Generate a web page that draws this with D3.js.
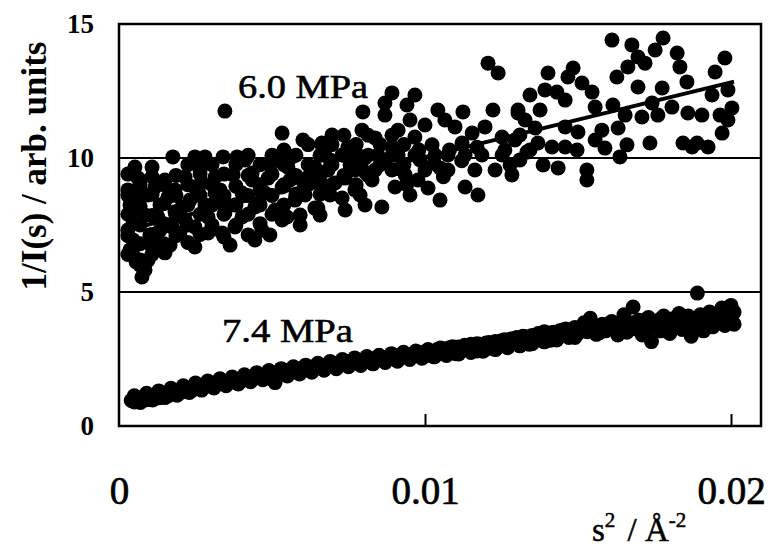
<!DOCTYPE html>
<html>
<head>
<meta charset="utf-8">
<script src="https://cdn.jsdelivr.net/npm/d3@7"></script>
<style>
  html, body { margin: 0; padding: 0; background: #fff; }
  svg { display: block; }
  text { font-family: "Liberation Serif", "Times New Roman", serif; fill: #000; }
</style>
</head>
<body>
<svg id="chart" width="768" height="552"></svg>
<script>
// ---- data: 1/I(s) versus s^2 at two pressures ----
const s2_60 = [
  0.00346,0.00533,0.00601,0.00663,0.00176,0.00248,0.00281,0.0034,0.00386,0.00418,0.0051,0.00565,
  0.00052,0.00108,0.00062,0.00216,0.00373,0.00435,0.00487,0.0064,0.00549,0.00422,0.00363,0.00248,
  0.00291,0.00085,0.00069,0.00046,0.00046,0.00052,0.00062,0.00118,0.0016,0.00206,0.00248,0.00314,
  0.00346,0.00173,0.00127,0.00108,0.0015,0.00095,0.00075,0.00199,0.00248,0.00291,0.00402,0.00444,
  0.00477,0.00533,0.00575,0.00598,0.0064,0.00552,0.00314,0.00271,0.00346,0.00402,0.00435,0.0051,
  0.00533,0.00379,0.00337,
  0.00029,0.00036,0.00029,0.00036,0.00056,0.00101,0.00085,0.00134,0.00134,0.00183,0.00095,0.00069,
  0.00118,0.00167,0.00216,0.00232,0.00281,0.00183,0.0015,0.00265,0.0033,0.00379,0.00461,0.00493,
  0.00412,0.00559,0.00608,0.00624,0.00046,0.00467,0.00592,
  0.01206,0.01239,0.00892,0.00967,0.00869,0.00941,0.00797,0.01042,0.01124,0.01222,0.01304,0.00869,
  0.00951,0.01065,0.00794,0.00912,0.01,0.01098,0.01196,0.00696,0.00837,0.00967,0.01154,0.01252,
  0.00663,0.00748,0.00892,0.01023,0.01121,0.01294,
  0.00673,0.00729,0.00781,0.00846,0.00912,0.00967,0.01033,0.01075,0.01131,0.01186,0.01252,
  0.00683,0.00771,0.00837,0.00925,0.01,0.01075,0.01163,0.01229,
  0.01284,0.01131,0.01173,0.00902,0.00859,0.0065,0.00729,0.00771,0.00706,0.00827,0.00892,
  0.0069,0.00755,0.00804,0.00869,0.00935,0.00984,0.01049,0.00739,0.00804,0.00788,0.00977,0.00657,0.0069,
  0.01611,0.01778,0.01676,0.01752,0.01824,0.01696,0.01719,0.01663,0.0198,0.01833,0.01948,0.01402,
  0.01484,0.01467,0.01627,0.01856,0.01513,0.01696,0.01775,0.01392,0.01343,0.01546,0.01431,0.01458,
  0.01556,0.01614,0.01742,0.01807,0.01938,0.0199,0.01304,0.01376,0.01654,0.01709,0.01761,0.01859,
  0.01905,0.01964,0.02003,0.0199,0.01327,0.01458,0.01578,0.01631,0.015,0.01971,0.01369,0.01415,
  0.01458,0.01497,0.01556,0.01588,0.0166,0.01735,0.01843,0.01889,0.01925,0.01873,0.01637,0.01386,
  0.01435,0.01529,0.01529,
  0.0131,0.01343,0.0131,0.01261,0.01278,0.0136,0.01333,
  // dense low-s region
  0.00029,0.00029,0.00029,0.00029,0.00029, 0.00069,0.00069,0.00069,0.00069,0.00069,
  0.00108,0.00108,0.00108,0.00108,0.00108, 0.00147,0.00147,0.00147,0.00147,
  0.00186,0.00186,0.00186,0.00186, 0.00225,0.00225,0.00225,0.00225,0.00225,
  0.00265,0.00265,0.00265,0.00265, 0.00304,0.00304,0.00304,0.00304,
  0.00343,0.00343,0.00343,0.00343, 0.00382,0.00382,0.00382,0.00382,
  0.00422,0.00422,0.00422,0.00422, 0.00461,0.00461,0.00461,0.00461,
  0.005,0.005,0.005,0.005, 0.00539,0.00539,0.00539,0.00539,
  0.00578,0.00578,0.00578, 0.00618,0.00618,0.00618, 0.00657,0.00657,0.00657,
  0.00696,0.00696,0.00696, 0.00735,0.00735,0.00735, 0.00775,0.00775,0.00775,
  0.00814,0.00814,0.00814, 0.00853,0.00853, 0.00892,0.00892, 0.00931,0.00931,
  0.0098,0.0103,0.0108,0.0112,0.0117,0.0106,0.0094,
  0.00739,0.00804,0.00951,0.0101,0.01049,0.00592,0.00657,0.00493,0.00444
];
const inv_60 = [
  11.75,10.93,10.67,10.56,10.04,10.04,10.04,10.04,10.04,10.04,10.04,10.04,
  9.66,9.66,9.25,9.29,9.37,9.44,9.25,8.13,7.80,7.13,6.75,6.68,
  7.20,5.82,6.19,6.94,7.57,8.06,8.54,8.92,8.54,8.17,8.92,8.69,
  7.95,7.43,7.80,6.68,6.46,6.19,5.56,7.20,7.43,7.80,7.80,8.17,
  8.69,8.92,8.43,9.18,9.66,9.66,9.29,9.07,8.32,8.69,9.18,8.06,
  7.69,7.43,7.20,
  8.81,8.25,7.31,6.57,6.12,7.13,7.87,7.31,8.25,7.99,8.62,9.18,
  6.94,6.75,7.69,8.43,8.25,8.81,9.18,9.55,8.81,8.25,8.81,9.74,
  9.93,9.18,8.62,9.37,6.38,7.31,7.87,
  13.54,13.17,12.43,12.35,12.05,11.98,11.72,11.79,11.72,11.79,11.68,11.60,
  11.42,11.42,11.04,11.04,11.23,11.16,11.16,10.86,10.75,10.78,10.93,10.78,
  10.49,10.41,10.41,10.49,10.56,10.67,
  10.11,10.11,10.11,10.11,10.11,10.11,10.11,10.11,10.11,10.11,10.11,
  9.55,9.55,9.55,9.55,9.55,9.55,9.55,9.55,
  9.37,8.92,8.62,8.92,8.17,8.13,8.51,8.81,9.07,9.18,9.55,
  9.93,9.74,10.0,9.85,9.37,9.93,9.63,9.25,9.48,8.62,9.18,8.99,8.62,
  14.40,14.48,14.22,14.03,13.92,13.77,13.54,13.40,13.73,13.40,13.21,13.17,
  13.36,13.02,13.02,12.84,12.80,12.65,12.61,12.54,12.35,12.46,12.46,12.16,
  11.90,11.98,12.05,11.90,12.35,12.54,11.79,11.79,11.60,11.53,11.60,11.68,
  11.60,11.60,11.87,11.42,11.42,11.16,11.04,11.12,10.97,10.93,10.56,10.41,
  10.41,10.30,10.67,10.37,10.49,10.56,10.56,10.56,10.41,10.41,10.04,9.74,
  9.63,9.55,9.18,
  10.86,10.30,9.93,10.30,9.74,11.12,10.22,
  9.40,8.60,7.90,7.10,6.40, 9.00,8.20,7.50,6.80,6.00,
  9.30,8.65,7.85,7.15,6.40, 9.00,8.30,7.55,6.80,
  9.35,8.60,7.85,7.10, 9.75,9.00,8.25,7.50,6.85,
  9.40,8.60,7.90,7.15, 9.75,9.00,8.25,7.50,
  9.40,8.60,7.90,7.05, 9.75,8.95,8.25,7.50,
  10.10,9.35,8.60,7.90, 9.75,9.00,8.25,7.55,
  10.10,9.40,8.60,7.90, 10.30,9.75,9.00,8.25,
  10.10,9.35,8.60, 10.50,9.75,9.00, 10.10,9.35,8.65,
  10.50,9.75,9.00, 10.85,10.10,9.35, 10.50,9.75,9.00,
  10.85,10.10,9.35, 10.50,9.75, 10.85,10.10, 10.50,9.75,
  10.30,9.80,10.30,9.90,10.40,9.30,9.00,
  8.06,8.25,8.62,8.88,8.43,7.50,7.87,7.13,6.94
];

const s2_74 = [
  0.0004,0.0005,0.0006,0.0007,0.0008,0.0009,0.0010,0.0011,0.0012,0.0013,0.0014,0.0015,0.0016,0.0017,
  0.0018,0.0019,0.0020,0.0021,0.0022,0.0023,0.0024,0.0025,0.0026,0.0027,0.0028,0.0029,0.0030,0.0031,
  0.0032,0.0033,0.0034,0.0035,0.0036,0.0037,0.0038,0.0039,0.0040,0.0041,0.0042,0.0043,0.0044,0.0045,
  0.0046,0.0047,0.0048,0.0049,0.0050,0.0051,0.0052,0.0053,0.0054,0.0055,0.0056,0.0057,0.0058,0.0059,
  0.0060,0.0061,0.0062,0.0063,0.0064,0.0065,0.0066,0.0067,0.0068,0.0069,0.0070,0.0071,0.0072,0.0073,
  0.0074,0.0075,0.0076,0.0077,0.0078,0.0079,0.0080,0.0081,0.0082,0.0083,0.0084,0.0085,0.0086,0.0087,
  0.0088,0.0089,0.0090,0.0091,0.0092,0.0093,0.0094,0.0095,0.0096,0.0097,0.0098,0.0099,0.0100,0.0101,
  0.0102,0.0103,0.0104,0.0105,0.0106,0.0107,0.0108,0.0109,0.0110,0.0111,0.0112,0.0113,0.0114,0.0115,
  0.0116,0.0117,0.0118,0.0119,0.0120,0.0121,0.0122,0.0123,0.0124,0.0125,0.0126,0.0127,0.0128,0.0129,
  0.0130,0.0131,0.0132,0.0133,0.0134,0.0135,0.0136,0.0137,0.0138,0.0139,0.0140,0.0141,0.0142,0.0143,
  0.0144,0.0145,0.0146,0.0147,0.0148,0.0149,0.0150,0.0151,0.0152,0.0153,0.0154,0.0155,0.0156,0.0157,
  0.0158,0.0159,0.0160,0.0161,0.0162,0.0163,0.0164,0.0165,0.0166,0.0167,0.0168,0.0169,0.0170,0.0171,
  0.0172,0.0173,0.0174,0.0175,0.0176,0.0177,0.0178,0.0179,0.0180,0.0181,0.0182,0.0183,0.0184,0.0185,
  0.0186,0.0187,0.0188,0.0189,0.0190,0.0191,0.0192,0.0193,0.0194,0.0195,0.0196,0.0197,0.0198,0.0199,
  0.0200,0.0201,0.0200,
  // second pass
  0.0005,0.0007,0.0009,0.0011,0.0013,0.0015,0.0017,0.0019,0.0021,0.0023,0.0025,0.0027,0.0029,0.0031,
  0.0033,0.0035,0.0037,0.0039,0.0041,0.0043,0.0045,0.0047,0.0049,0.0051,0.0053,0.0055,0.0057,0.0059,
  0.0061,0.0063,0.0065,0.0067,0.0069,0.0071,0.0073,0.0075,0.0077,0.0079,0.0081,0.0083,0.0085,0.0087,
  0.0089,0.0091,0.0093,0.0095,0.0097,0.0099,0.0101,0.0103,0.0105,0.0107,0.0109,0.0111,0.0113,0.0115,
  0.0117,0.0119,0.0121,0.0123,0.0125,0.0127,0.0129,0.0131,0.0133,0.0135,0.0137,0.0139,0.0141,0.0143,
  0.0145,0.0149,0.0153,0.0157,0.0161,0.0165,0.0169,0.0173,0.0177,0.0181,0.0185,0.0189,0.0193,0.0197,0.0201
];
const inv_74 = [
  0.95,0.90,1.00,0.97,1.02,0.98,1.06,1.03,1.10,1.05,1.13,1.18,1.12,1.22,
  1.19,1.27,1.24,1.33,1.30,1.38,1.34,1.45,1.40,1.52,1.47,1.55,1.50,1.60,
  1.54,1.62,1.58,1.66,1.63,1.70,1.66,1.74,1.69,1.78,1.73,1.80,1.77,1.84,
  1.80,1.88,1.84,1.92,1.75,1.62,1.96,2.00,1.95,2.06,2.01,2.10,2.04,2.14,
  2.08,2.17,2.12,2.20,2.15,2.24,2.18,2.26,2.22,2.30,2.25,2.33,2.28,2.37,
  2.32,2.40,2.34,2.42,2.37,2.45,2.40,2.48,2.43,2.51,2.46,2.54,2.48,2.56,
  2.50,2.58,2.53,2.61,2.55,2.64,2.58,2.66,2.60,2.70,2.63,2.74,2.66,2.80,
  2.62,2.76,2.85,2.70,2.88,2.78,2.92,2.82,2.70,2.95,2.86,2.98,2.88,3.05,
  2.92,2.80,3.05,2.95,3.10,2.90,3.02,3.15,2.95,3.12,3.22,3.02,3.25,3.10,
  3.30,3.15,3.35,3.20,3.05,3.38,3.25,3.45,3.30,3.52,3.35,3.20,3.50,3.38,
  3.55,3.40,3.62,3.30,3.50,3.68,3.45,3.60,3.85,3.52,4.02,3.70,3.42,3.65,
  3.80,3.55,3.72,3.90,3.60,3.40,3.75,4.15,3.50,3.85,4.44,3.62,3.95,3.40,
  3.78,4.05,3.15,3.70,3.90,3.55,4.10,3.80,3.45,4.00,3.70,4.20,3.60,3.90,
  4.10,3.35,3.80,4.96,4.15,3.55,3.95,4.25,3.70,4.05,3.85,4.40,3.75,4.10,
  4.50,3.80,3.95,
  1.13,0.88,1.22,0.97,1.31,1.06,1.41,1.15,1.50,1.25,1.60,1.34,1.68,1.42,
  1.76,1.50,1.83,1.57,1.91,1.65,1.99,1.73,2.07,1.80,2.14,1.87,2.21,1.94,
  2.27,2.01,2.34,2.08,2.41,2.14,2.48,2.21,2.54,2.26,2.59,2.32,2.64,2.37,
  2.70,2.42,2.75,2.48,2.80,2.53,2.85,2.58,2.91,2.63,2.96,2.69,3.01,2.74,
  3.07,2.79,3.12,2.85,3.18,2.92,3.26,2.99,3.33,3.07,3.40,3.14,3.47,3.21,
  3.58,3.30,3.75,3.48,3.82,3.55,3.88,3.60,4.00,3.75,4.05,3.70,4.10,3.92,4.25
];

// least-squares line through the 6.0 MPa points (end points)
const fit60_s2 = [0.0005, 0.0201];
const fit60_inv = [7.39, 12.85];

const yTicks = [0, 5, 10, 15];
const xTicks = [0, 0.01, 0.02];
const xTickLabels = ["0", "0.01", "0.02"];
const seriesLabels = ["6.0 MPa", "7.4 MPa"];

// ---- layout ----
const svg = d3.select("#chart");
const plotLeft = 119, plotRight = 761, plotTop = 24, plotBottom = 426;
const dotR = 7.5;

const x = d3.scaleLinear().domain([0, 0.02098]).range([plotLeft, plotRight]);
const y = d3.scaleLinear().domain([0, 15]).range([plotBottom, plotTop]);

// points
const pts60 = s2_60.map((d, i) => [d, inv_60[i]]);
const pts74 = s2_74.map((d, i) => [d, inv_74[i]]);

const gPts = svg.append("g");
gPts.selectAll("circle.p60").data(pts60).join("circle")
  .attr("class", "p60")
  .attr("cx", d => x(d[0])).attr("cy", d => y(d[1])).attr("r", dotR).attr("fill", "#000");
gPts.selectAll("circle.p74").data(pts74).join("circle")
  .attr("class", "p74")
  .attr("cx", d => x(d[0])).attr("cy", d => y(d[1])).attr("r", dotR).attr("fill", "#000");

// fit line
svg.append("path")
  .datum(fit60_s2.map((d, i) => [d, fit60_inv[i]]))
  .attr("d", d3.line().x(d => x(d[0])).y(d => y(d[1])))
  .attr("stroke", "#000").attr("stroke-width", 4).attr("fill", "none");

// horizontal grid lines at inner ticks
svg.append("g").selectAll("line").data(yTicks.filter(v => v > 0 && v < 15)).join("line")
  .attr("x1", plotLeft).attr("x2", plotRight)
  .attr("y1", d => y(d)).attr("y2", d => y(d))
  .attr("stroke", "#000").attr("stroke-width", 2.2);

// frame
svg.append("rect")
  .attr("x", plotLeft).attr("y", plotTop)
  .attr("width", plotRight - plotLeft).attr("height", plotBottom - plotTop)
  .attr("fill", "none").attr("stroke", "#000").attr("stroke-width", 2.5);

// x axis: inward ticks, labels below
const xAxis = d3.axisBottom(x).tickValues(xTicks)
  .tickFormat((d, i) => xTickLabels[i]).tickSize(-12).tickPadding(50);
const gx = svg.append("g").attr("transform", `translate(0,${plotBottom})`).call(xAxis);
gx.select(".domain").remove();
gx.selectAll(".tick line").attr("stroke", "#000").attr("stroke-width", 2)
  .filter(d => d === 0).remove();
gx.selectAll(".tick text")
  .attr("font-family", "Liberation Serif").attr("font-size", 39).attr("fill", "#000")
  .attr("stroke", "#000").attr("stroke-width", 0.7);

// y axis: labels only
const yAxis = d3.axisLeft(y).tickValues(yTicks).tickSize(0).tickPadding(25);
const gy = svg.append("g").attr("transform", `translate(${plotLeft},0)`).call(yAxis);
gy.select(".domain").remove();
gy.selectAll(".tick text")
  .attr("font-family", "Liberation Serif").attr("font-weight", "bold")
  .attr("font-size", 27).attr("fill", "#000");

// series labels
svg.append("text").attr("x", 238).attr("y", 98)
  .attr("font-size", 34).attr("textLength", 130).attr("lengthAdjust", "spacingAndGlyphs")
  .attr("stroke", "#000").attr("stroke-width", 0.6)
  .text(seriesLabels[0]);
svg.append("text").attr("x", 222).attr("y", 342)
  .attr("font-size", 34).attr("textLength", 131).attr("lengthAdjust", "spacingAndGlyphs")
  .attr("stroke", "#000").attr("stroke-width", 0.6)
  .text(seriesLabels[1]);

// axis titles
svg.append("text")
  .attr("transform", "translate(46,166) rotate(-90)")
  .attr("text-anchor", "middle").attr("font-weight", "bold").attr("font-size", 35)
  .text("1/I(s) / arb. units");

const xt = svg.append("text").attr("x", 592).attr("y", 541)
  .attr("font-size", 33).attr("stroke", "#000").attr("stroke-width", 0.5);
xt.append("tspan").text("s");
xt.append("tspan").attr("dy", -14).attr("font-size", 21).text("2");
xt.append("tspan").attr("dy", 14).attr("dx", 4).text(" / Å");
xt.append("tspan").attr("dy", -14).attr("font-size", 21).text("-2");
</script>
</body>
</html>
